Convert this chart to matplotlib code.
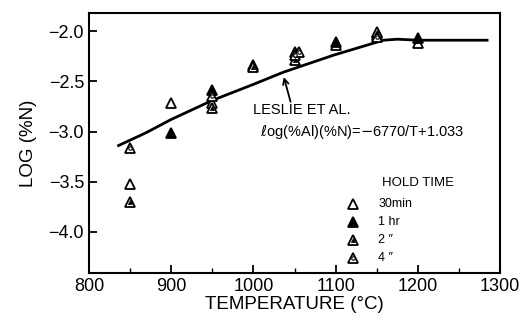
import numpy as np
import matplotlib.pyplot as plt

plt.rcParams['font.family'] = ['Liberation Sans', 'DejaVu Sans']

curve_T = [836, 870, 900, 950, 1000, 1036, 1097, 1158, 1175, 1200, 1284]
curve_y = [-3.14, -3.01, -2.88, -2.69, -2.53, -2.41, -2.24, -2.09, -2.08, -2.09, -2.09]

# hold time series
t_30min = [850, 900, 950, 1050, 1100, 1150, 1200]
y_30min = [-3.52, -2.72, -2.72, -2.21, -2.14, -2.02, -2.12]

t_1hr = [900, 950, 1000, 1100, 1150, 1200]
y_1hr = [-3.01, -2.59, -2.34, -2.11, -2.04, -2.07]

t_2hr = [850, 950, 1000, 1050, 1150]
y_2hr = [-3.70, -2.77, -2.36, -2.29, -2.01]

t_4hr = [850, 950, 1050, 1055, 1150]
y_4hr = [-3.16, -2.65, -2.24, -2.21, -2.06]

legend_labels = ['30min', '1 hr', '2 \u2033', '4 \u2033']

fig = plt.figure(figsize=(5.2, 3.2), dpi=100)
ax = fig.add_axes([0.171, 0.147, 0.791, 0.812])

ax.plot(curve_T, curve_y, color='black', lw=2.0, zorder=2)

ms = 7
kw = dict(linestyle='none', markeredgecolor='black', markeredgewidth=1.3, zorder=3)
inner2 = dict(marker='^', markersize=3, markerfacecolor='black', linestyle='none',
              markeredgecolor='black', markeredgewidth=0.5, zorder=4)
inner4 = dict(marker='o', markersize=2.5, markerfacecolor='white', linestyle='none',
              markeredgecolor='black', markeredgewidth=0.8, zorder=4)

ax.plot(t_30min, y_30min, marker='^', markersize=ms, markerfacecolor='white', **kw)
ax.plot(t_1hr, y_1hr, marker='^', markersize=ms, markerfacecolor='black', **kw)
ax.plot(t_2hr, y_2hr, marker='^', markersize=ms, markerfacecolor='white', **kw)
ax.plot(t_2hr, y_2hr, **inner2)
ax.plot(t_4hr, y_4hr, marker='^', markersize=ms, markerfacecolor='white', **kw)
ax.plot(t_4hr, y_4hr, **inner4)

ax.set_xlim(800, 1300)
ax.set_ylim(-4.41, -1.82)
ax.set_xticks([800, 900, 1000, 1100, 1200, 1300])
ax.set_xticks([850, 950, 1050, 1150, 1250], minor=True)
ax.set_yticks([-2.0, -2.5, -3.0, -3.5, -4.0])
ax.set_yticklabels(['\u22122.0', '\u22122.5', '\u22123.0', '\u22123.5', '\u22124.0'])
ax.tick_params(direction='in', labelsize=13, width=1.3, length=6)
ax.tick_params(which='minor', direction='in', width=1.0, length=3.5)
for s in ax.spines.values():
    s.set_linewidth(1.5)

ax.set_xlabel('TEMPERATURE (\u00b0C)', fontsize=13.5, labelpad=1)
ax.set_ylabel('LOG (%N)', fontsize=13.5, labelpad=8)

ax.annotate('', xy=(1036, -2.43), xytext=(1046, -2.73),
            arrowprops=dict(arrowstyle='->', color='black', lw=1.3))
ax.text(1000, -2.83, 'LESLIE ET AL.', fontsize=10.5)
ax.text(1008, -3.04, r'$\ell$og(%Al)(%N)=$-$6770/T+1.033', fontsize=10.5)

# legend drawn by hand (markers overlap like the original symbols)
tr = ax.transAxes
ax.text(0.713, 0.346, 'HOLD TIME', transform=tr, fontsize=9.5, va='center')
rows = [0.265, 0.196, 0.127, 0.058]
ax.plot([0.642], [rows[0]], transform=tr, marker='^', markersize=ms,
        markerfacecolor='white', clip_on=False, **kw)
ax.plot([0.642], [rows[1]], transform=tr, marker='^', markersize=ms,
        markerfacecolor='black', clip_on=False, **kw)
ax.plot([0.642], [rows[2]], transform=tr, marker='^', markersize=ms,
        markerfacecolor='white', clip_on=False, **kw)
ax.plot([0.642], [rows[2]], transform=tr, **inner2)
ax.plot([0.642], [rows[3]], transform=tr, marker='^', markersize=ms,
        markerfacecolor='white', clip_on=False, **kw)
ax.plot([0.642], [rows[3]], transform=tr, **inner4)
for r, lab in zip(rows, legend_labels):
    ax.text(0.703, r, lab, transform=tr, fontsize=9, va='center')

fig.savefig('out.png', dpi=100)
